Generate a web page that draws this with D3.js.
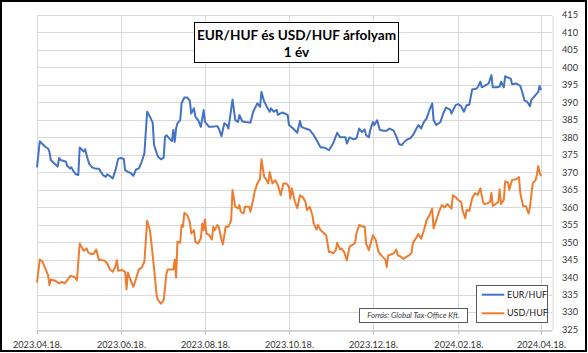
<!DOCTYPE html>
<html>
<head>
<meta charset="utf-8">
<script src="https://cdn.jsdelivr.net/npm/d3@7"></script>
<style>
body { margin: 0; background: #fff; }
svg { display: block; font-family: Lato, "Open Sans", sans-serif; }
</style>
</head>
<body>
<script>
// data: days counted from 2023.04.18.
var startLabel = "2023.04.18.";
var axisEndLabel = "2024.04.26.";
var xTickLabels = ["2023.04.18.", "2023.06.18.", "2023.08.18.", "2023.10.18.", "2023.12.18.", "2024.02.18.", "2024.04.18."];
var yTicks = [325, 330, 335, 340, 345, 350, 355, 360, 365, 370, 375, 380, 385, 390, 395, 400, 405, 410, 415];
var seriesNames = ["EUR/HUF", "USD/HUF"];
var seriesColors = ["#4472C4", "#ED7D31"];
var titleLines = ["EUR/HUF és USD/HUF árfolyam", "1 év"];
var sourceText = "Forrás: Global Tax-Office Kft.";

var eurDays = [0,2,4,6,8,9,10,12,14,15,16,17,19,21,22,24,25,26,28,30,31,33,34,35,36,38,40,42,45,46,48,50,51,53,55,57,59,61,63,64,66,68,70,72,74,76,78,80,82,84,85,87,88,90,92,93,94,96,98,99,100,101,102,104,105,107,109,111,112,114,115,117,119,
  121,122,125,127,131,132,134,136,138,139,142,144,146,147,149,151,155,157,160,162,163,165,167,169,170,172,174,175,178,180,182,183,186,189,191,192,195,198,201,203,206,208,210,212,215,218,220,223,224,225,227,230,232,234,236,238,239,241,242,244,
  245,247,249,252,254,256,259,261,263,265,267,269,271,273,275,277,279,281,283,285,287,288,290,293,295,297,300,301,304,306,308,310,312,314,316,319,320,322,323,325,328,330,331,334,336,337,339,340,342,344,345,348,351,353,354,356,358,359,362,364,365,366];
var eurValues = [371.4,378.9,378.1,377.3,376.8,375.9,373.5,372.7,372.0,371.6,374.1,373.5,373.3,373.0,371.8,371.1,371.4,370.6,369.5,369.2,377.1,376.3,375.9,376.6,374.9,372.3,371.4,371.1,371.0,370.3,369.2,368.7,369.4,368.9,368.2,370.6,373.9,374.1,373.8,370.6,370.1,369.8,369.0,370.8,371.1,373.0,375.4,387.3,385.9,384.2,377.8,375.4,374.4,373.7,374.2,380.2,380.6,379.7,378.9,382.1,378.7,382.5,384.0,384.9,389.7,391.4,391.4,390.5,386.8,388.3,385.9,384.9,383.0,
  387.8,384.4,383.0,383.0,383.2,382.5,380.3,384.0,383.5,382.5,390.8,384.9,384.4,386.4,384.6,384.4,384.2,387.3,389.7,388.7,393.0,390.2,388.7,387.3,388.3,387.3,387.9,386.4,387.1,386.8,386.4,383.5,382.5,381.3,384.7,383.0,382.5,382.1,380.6,379.2,377.1,377.1,376.8,376.3,378.2,381.3,380.0,380.0,380.0,378.2,380.0,379.4,379.7,382.5,381.5,382.2,380.6,380.0,382.1,384.4,
  383.5,384.9,382.1,381.9,381.9,382.5,381.9,380.2,378.0,377.8,378.8,379.4,379.7,380.6,382.1,383.5,382.5,384.4,385.4,387.8,389.7,384.9,383.5,384.4,386.8,388.5,387.9,386.8,389.2,389.5,388.9,387.3,389.2,389.4,393.7,393.9,394.3,395.9,394.3,394.7,395.4,397.8,394.3,394.3,394.5,395.9,394.3,397.5,397.1,396.8,395.2,395.4,394.7,392.1,390.5,390.2,388.9,390.7,392.1,393.0,394.7,393.5];

var usdDays = [0,2,4,6,8,9,10,12,14,16,18,20,22,24,27,29,31,33,34,36,37,39,41,43,45,46,49,51,53,55,57,58,59,62,64,65,66,68,70,72,74,76,78,80,82,83,85,87,88,90,92,94,95,97,99,100,101,102,104,105,106,107,109,111,112,114,115,117,119,
  120,121,122,123,125,127,128,129,131,132,134,135,137,139,141,142,144,146,147,148,150,151,154,155,157,158,160,162,163,165,166,168,169,171,173,175,177,179,181,183,184,185,187,189,191,193,195,196,198,200,201,203,204,206,208,210,212,213,215,217,218,220,221,223,225,227,229,231,232,234,237,238,239,241,242,244,
  246,248,250,253,254,255,258,259,261,262,264,266,268,270,272,273,275,277,278,279,281,283,285,287,288,290,292,294,296,298,300,301,302,304,306,308,309,311,312,314,316,318,320,322,324,325,327,329,330,331,333,335,336,337,339,340,342,343,345,348,350,351,353,355,357,358,360,362,363,364,365,366];
var usdValues = [338.4,345.0,344.4,342.5,340.6,337.7,339.3,339.1,338.8,338.2,338.6,338.2,339.1,340.3,340.1,339.1,349.6,348.2,347.5,348.2,347.2,346.6,346.6,347.9,344.8,345.0,344.7,343.9,342.2,341.5,343.1,344.8,341.8,342.0,341.5,336.5,341.3,339.1,337.2,339.6,342.2,342.7,344.4,356.1,353.4,350.1,342.5,334.4,333.4,332.4,333.4,341.0,342.2,342.2,342.2,345.0,339.9,350.1,349.8,354.9,354.4,358.4,357.7,355.8,352.5,353.4,350.1,349.6,351.1,
  355.3,353.4,356.5,352.5,352.0,350.8,354.4,353.4,354.9,354.4,350.6,349.4,354.4,354.4,356.3,364.9,360.1,359.7,360.6,358.7,358.2,360.1,360.1,358.7,362.2,364.4,366.8,368.2,373.7,368.7,368.2,366.8,370.1,366.8,367.7,366.3,363.4,366.8,366.8,365.8,362.5,365.4,362.0,359.7,363.4,362.9,361.5,359.2,360.1,357.7,355.3,353.6,354.9,353.4,352.7,352.0,347.2,347.2,346.8,347.7,349.8,347.9,348.2,347.2,344.8,348.7,349.2,349.8,352.5,354.9,354.4,354.4,349.6,347.7,349.2,352.0,
  350.6,347.2,346.2,345.0,342.9,346.2,346.6,346.8,347.9,346.2,345.9,345.2,345.7,346.2,346.9,349.8,351.0,352.3,351.5,351.0,353.4,356.3,357.7,359.6,353.9,356.3,358.7,360.6,359.9,360.9,360.1,359.6,363.4,362.9,362.0,361.5,359.2,356.8,359.2,359.0,362.5,364.0,363.5,365.4,361.3,360.9,361.1,361.5,364.1,360.4,360.9,361.5,365.1,360.9,362.1,367.4,367.1,365.0,367.8,368.0,368.6,364.0,360.3,360.3,358.2,360.1,366.8,367.7,369.2,371.8,370.0,368.9];

var width = 588, height = 353;
var plot = { left: 37, right: 552, top: 15, bottom: 329.5 };

var parseDate = d3.timeParse("%Y.%m.%d.");
var startDate = parseDate(startLabel);
var tickDates = xTickLabels.map(parseDate);

var x = d3.scaleTime()
    .domain([startDate, parseDate(axisEndLabel)])
    .range([plot.left, plot.right]);
var y = d3.scaleLinear()
    .domain([325, 415])
    .range([plot.bottom, plot.top]);

var svg = d3.select("body").append("svg")
    .attr("width", width)
    .attr("height", height);

svg.append("rect")
    .attr("width", width).attr("height", height)
    .attr("fill", "#fff");

// gridlines
svg.append("g")
    .selectAll("line")
    .data(yTicks)
    .enter().append("line")
    .attr("x1", plot.left).attr("x2", plot.right)
    .attr("y1", function(d) { return Math.round(y(d)) + 0.5; })
    .attr("y2", function(d) { return Math.round(y(d)) + 0.5; })
    .attr("stroke", "#d9d9d9");

svg.append("g")
    .selectAll("line")
    .data(tickDates)
    .enter().append("line")
    .attr("x1", function(d) { return Math.round(x(d)) + 0.5; })
    .attr("x2", function(d) { return Math.round(x(d)) + 0.5; })
    .attr("y1", plot.top).attr("y2", plot.bottom)
    .attr("stroke", "#d9d9d9");

// right value axis
var yAxis = svg.append("g")
    .attr("transform", "translate(" + (plot.right + 0.5) + ",0)")
    .call(d3.axisRight(y).tickValues(yTicks).tickSize(0).tickPadding(9.5));
yAxis.select(".domain").attr("stroke", "#d9d9d9");
yAxis.selectAll("text")
    .attr("font-family", "Lato, sans-serif")
    .attr("font-size", 9.2)
    .attr("fill", "#333");

// bottom date axis
var xAxis = svg.append("g")
    .attr("transform", "translate(0," + (Math.round(plot.bottom) + 0.5) + ")")
    .call(d3.axisBottom(x)
        .tickValues(tickDates)
        .tickFormat(function(d, i) { return xTickLabels[i]; })
        .tickSizeInner(4).tickSizeOuter(0).tickPadding(6.5));
xAxis.select(".domain").attr("stroke", "#bfbfbf");
xAxis.selectAll(".tick line").attr("stroke", "#bfbfbf");
xAxis.selectAll("text")
    .attr("font-family", "Lato, sans-serif")
    .attr("font-size", 9.2)
    .attr("fill", "#333");

// lines
var line = d3.line()
    .x(function(d) { return x(d3.timeDay.offset(startDate, d[0])); })
    .y(function(d) { return y(d[1]); });

var series = [
    d3.zip(eurDays, eurValues),
    d3.zip(usdDays, usdValues)
];

svg.append("g")
    .selectAll("path")
    .data(series)
    .enter().append("path")
    .attr("d", line)
    .attr("fill", "none")
    .attr("stroke", function(d, i) { return seriesColors[i]; })
    .attr("stroke-width", 2)
    .attr("stroke-linejoin", "round");

// title box
var title = svg.append("g");
title.append("rect")
    .attr("x", 194.5).attr("y", 22.5)
    .attr("width", 204).attr("height", 40)
    .attr("fill", "#fff").attr("stroke", "#000");
title.selectAll("text")
    .data(titleLines)
    .enter().append("text")
    .attr("x", 296.5)
    .attr("y", function(d, i) { return 39.5 + i * 17; })
    .attr("text-anchor", "middle")
    .attr("font-size", 13.6)
    .attr("font-weight", "bold")
    .attr("fill", "#000")
    .text(function(d) { return d; });

// source note
var src = svg.append("g");
src.append("rect")
    .attr("x", 359.5).attr("y", 308.5)
    .attr("width", 108).attr("height", 14)
    .attr("fill", "#fff").attr("stroke", "#595959");
src.append("text")
    .attr("x", 413.5).attr("y", 315.5)
    .attr("dy", "0.35em")
    .attr("text-anchor", "middle")
    .attr("font-size", 7.8)
    .attr("font-style", "italic")
    .attr("fill", "#404040")
    .text(sourceText);

// legend
var legend = svg.append("g");
legend.append("rect")
    .attr("x", 476.5).attr("y", 285.5)
    .attr("width", 71).attr("height", 37)
    .attr("fill", "#fff").attr("stroke", "#595959");
var item = legend.selectAll(".item")
    .data(seriesNames)
    .enter().append("g")
    .attr("class", "item")
    .attr("transform", function(d, i) { return "translate(0," + (294.7 + i * 18.6) + ")"; });
item.append("line")
    .attr("x1", 481.7).attr("x2", 504.3)
    .attr("stroke", function(d, i) { return seriesColors[i]; })
    .attr("stroke-width", 2);
item.append("text")
    .attr("x", 507)
    .attr("dy", "0.35em")
    .attr("font-size", 9)
    .attr("fill", "#1a1a1a")
    .text(function(d) { return d; });

// outer frame
svg.append("rect")
    .attr("x", 1).attr("y", 1)
    .attr("width", width - 3).attr("height", height - 3)
    .attr("fill", "none")
    .attr("stroke", "#000")
    .attr("stroke-width", 2);
</script>
</body>
</html>
